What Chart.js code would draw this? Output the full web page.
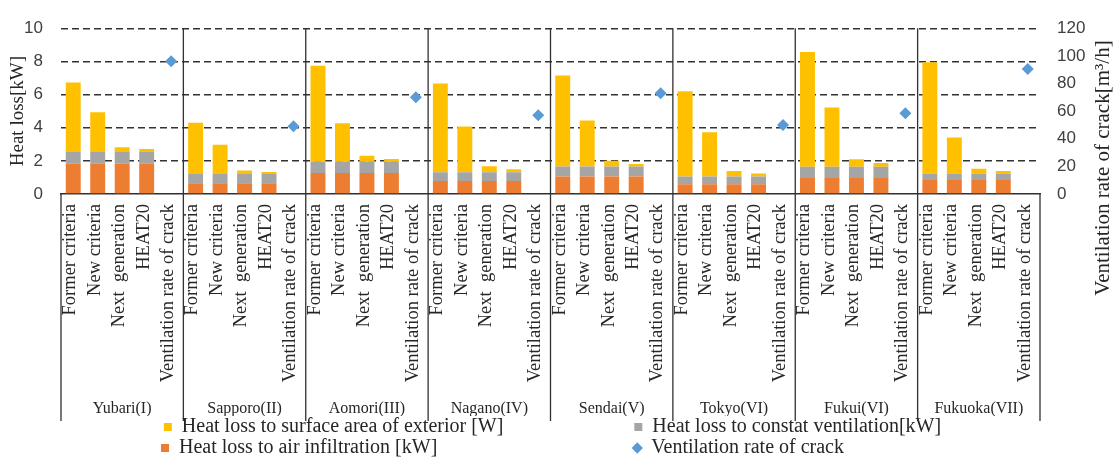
<!DOCTYPE html>
<html>
<head>
<meta charset="utf-8">
<script src="https://cdn.jsdelivr.net/npm/chart.js@4.4.1/dist/chart.umd.min.js"></script>
<style>
html,body{margin:0;padding:0;background:#ffffff;}
#wrap{width:1115px;height:458px;position:relative;}
</style>
</head>
<body>
<div id="wrap"><canvas id="c"></canvas></div>
<script>
// ---- data ----
const groups = ['Yubari(I)', 'Sapporo(II)', 'Aomori(III)', 'Nagano(IV)', 'Sendai(V)', 'Tokyo(VI)', 'Fukui(VI)', 'Fukuoka(VII)'];
const cases = ['Former criteria', 'New criteria', 'Next  generation', 'HEAT20', 'Ventilation rate of crack'];

// Heat loss to air infiltration [kW] (bottom, orange)
const airInfiltration = [
  1.83, 1.83, 1.83, 1.83, null,
  0.65, 0.65, 0.65, 0.65, null,
  1.26, 1.26, 1.26, 1.26, null,
  0.78, 0.78, 0.78, 0.78, null,
  1.05, 1.05, 1.05, 1.05, null,
  0.59, 0.59, 0.59, 0.59, null,
  0.97, 0.97, 0.97, 0.97, null,
  0.84, 0.84, 0.84, 0.84, null
];
// Heat loss to constant ventilation [kW] (middle, gray)
const constVentilation = [
  0.70, 0.70, 0.70, 0.70, null,
  0.55, 0.55, 0.55, 0.55, null,
  0.68, 0.68, 0.68, 0.68, null,
  0.53, 0.53, 0.53, 0.53, null,
  0.61, 0.61, 0.61, 0.61, null,
  0.46, 0.46, 0.46, 0.46, null,
  0.67, 0.67, 0.67, 0.67, null,
  0.40, 0.40, 0.40, 0.40, null
];
// Heat loss to surface area of exterior (top, yellow)
const surfaceArea = [
  4.19, 2.40, 0.29, 0.19, null,
  3.10, 1.77, 0.21, 0.13, null,
  5.79, 2.33, 0.36, 0.17, null,
  5.36, 2.76, 0.37, 0.18, null,
  5.48, 2.78, 0.34, 0.15, null,
  5.14, 2.68, 0.34, 0.19, null,
  6.93, 3.58, 0.46, 0.23, null,
  6.70, 2.17, 0.28, 0.15, null
];
// Ventilation rate of crack [m3/h] (right axis, diamonds)
const crackRate = [
  null, null, null, null, 96,
  null, null, null, null, 49,
  null, null, null, null, 70,
  null, null, null, null, 57,
  null, null, null, null, 73,
  null, null, null, null, 50,
  null, null, null, null, 58.5,
  null, null, null, null, 90.5
];
const leftTicks = [0, 2, 4, 6, 8, 10];
const rightTicks = [0, 20, 40, 60, 80, 100, 120];
const leftTitle = 'Heat loss[kW]';
const rightTitle = 'Ventilation rate of crack[m\u00B3/h]';
const seriesNames = ['Heat loss to air infiltration [kW]', 'Heat loss to constat ventilation[kW]', 'Heat loss to surface area of exterior [W]', 'Ventilation rate of crack'];

// ---- styling ----
const SERIF = '"Liberation Serif", "Times New Roman", serif';
const SANS = '"Liberation Sans", Arial, sans-serif';
const TXT = '#262626';
Chart.defaults.font.family = SERIF;
Chart.defaults.color = TXT;

const labels = [];
groups.forEach(() => cases.forEach(c => labels.push(c)));

const separators = {
  id: 'separators',
  afterDraw(chart) {
    const x = chart.scales.x, x2 = chart.scales.x2, area = chart.chartArea;
    const step = x.getPixelForValue(1) - x.getPixelForValue(0);
    const n = groups.length, per = cases.length;
    const ctx = chart.ctx;
    ctx.save();
    ctx.strokeStyle = '#303030';
    ctx.lineWidth = 1.3;
    for (let g = 0; g <= n; g++) {
      const px = g < n ? x.getPixelForValue(g * per) - step / 2 : x.getPixelForValue(n * per - 1) + step / 2;
      const top = (g === 0 || g === n) ? area.bottom : area.top;
      ctx.beginPath();
      ctx.moveTo(px, top);
      ctx.lineTo(px, x2.bottom + 5);
      ctx.stroke();
    }
    ctx.restore();
  }
};

const rightAxisTitle = {
  id: 'rightAxisTitle',
  afterDraw(chart) {
    const s = chart.scales.y1;
    const ctx = chart.ctx;
    ctx.save();
    ctx.translate(s.right - 12, 168);
    ctx.rotate(-Math.PI / 2);
    ctx.font = '21px ' + SERIF;
    ctx.fillStyle = TXT;
    ctx.textAlign = 'center';
    ctx.textBaseline = 'middle';
    ctx.fillText(rightTitle, 0, 0);
    ctx.restore();
  }
};

new Chart(document.getElementById('c'), {
  data: {
    labels: labels,
    datasets: [
      { type: 'bar', label: seriesNames[0], data: airInfiltration, backgroundColor: '#ED7D31', stack: 's', pointStyle: 'rect', categoryPercentage: 1, barPercentage: 0.61 },
      { type: 'bar', label: seriesNames[1], data: constVentilation, backgroundColor: '#A5A5A5', stack: 's', pointStyle: 'rect', categoryPercentage: 1, barPercentage: 0.61 },
      { type: 'bar', label: seriesNames[2], data: surfaceArea, backgroundColor: '#FFC000', stack: 's', pointStyle: 'rect', categoryPercentage: 1, barPercentage: 0.61 },
      { type: 'line', label: seriesNames[3], data: crackRate, yAxisID: 'y1', showLine: false, pointStyle: 'rectRot', pointRadius: 6, pointHoverRadius: 6, backgroundColor: '#5B9BD5', borderColor: '#5B9BD5', borderWidth: 0 }
    ]
  },
  options: {
    responsive: true,
    maintainAspectRatio: false,
    animation: false,
    devicePixelRatio: 1,
    layout: { padding: { top: 19, left: 0, right: 0, bottom: 0 } },
    plugins: {
      tooltip: { enabled: false },
      legend: {
        position: 'bottom',
        maxHeight: 42,
        labels: {
          usePointStyle: true,
          boxWidth: 8,
          boxHeight: 8,
          padding: 1,
          color: TXT,
          font: { family: SERIF, size: 20 },
          generateLabels(chart) {
            const ds = chart.data.datasets;
            const ctx = chart.ctx;
            ctx.save();
            ctx.font = '20px ' + SERIF;
            const w = t => ctx.measureText(t).width;
            const col1 = Math.max(w(ds[2].label), w(ds[0].label)) + 130;
            const col2 = Math.max(w(ds[1].label), w(ds[3].label)) + 12;
            const pad = (t, target) => { let s = t; while (w(s) < target - 2) s += ' '; return s; };
            const order = [2, 1, 0, 3];
            const targets = [col1, col2, col1, col2];
            const items = order.map((di, k) => ({
              text: pad(ds[di].label, targets[k]),
              fillStyle: ds[di].backgroundColor,
              strokeStyle: ds[di].backgroundColor,
              lineWidth: 0,
              pointStyle: ds[di].pointStyle,
              hidden: false,
              datasetIndex: di,
              fontColor: TXT
            }));
            ctx.restore();
            return items;
          }
        }
      }
    },
    scales: {
      x: {
        stacked: true,
        offset: true,
        grid: { display: false, drawTicks: false },
        border: { display: true, color: '#303030', width: 1.5 },
        ticks: { autoSkip: false, maxRotation: 90, minRotation: 90, padding: 10, labelOffset: -3, color: TXT, font: { family: SERIF, size: 18.5 } },
        afterFit(s) { s.height = 203; }
      },
      x2: {
        type: 'category',
        labels: groups,
        position: 'bottom',
        offset: true,
        grid: { display: false, drawTicks: false },
        border: { display: false },
        ticks: { autoSkip: false, maxRotation: 0, padding: 2, color: TXT, font: { family: SERIF, size: 16 } },
        afterFit(s) { s.height = 19; }
      },
      y: {
        stacked: true,
        min: leftTicks[0],
        max: leftTicks[leftTicks.length - 1],
        afterBuildTicks(s) { s.ticks = leftTicks.map(v => ({ value: v })); },
        ticks: { padding: 18, color: '#404040', font: { family: SANS, size: 17 } },
        grid: { color: c => (c.tick && c.tick.value === 0) ? 'rgba(0,0,0,0)' : '#333333', lineWidth: 1.4, drawTicks: false },
        border: { display: false, dash: [7, 4] },
        title: { display: true, text: leftTitle, color: TXT, font: { family: SERIF, size: 19 }, padding: { top: 7, bottom: 0 } },
        afterFit(s) { s.width = 61; }
      },
      y1: {
        position: 'right',
        min: rightTicks[0],
        max: rightTicks[rightTicks.length - 1],
        afterBuildTicks(s) { s.ticks = rightTicks.map(v => ({ value: v })); },
        ticks: { padding: 17, color: '#404040', font: { family: SANS, size: 17 } },
        grid: { drawOnChartArea: false, drawTicks: false },
        border: { display: false },
        afterFit(s) { s.width = 75; }
      }
    }
  },
  plugins: [separators, rightAxisTitle]
});
</script>
</body>
</html>
